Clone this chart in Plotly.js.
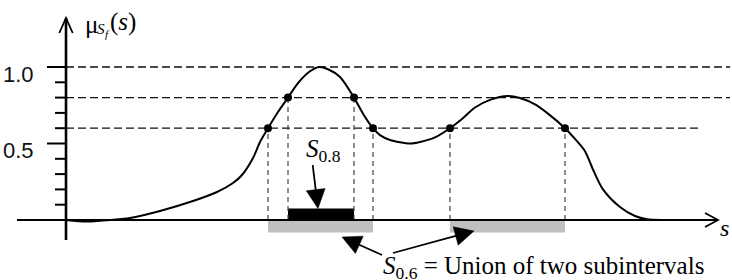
<!DOCTYPE html>
<html><head><meta charset="utf-8">
<script src="https://cdn.plot.ly/plotly-3.0.1.min.js"></script>
<style>html,body{margin:0;padding:0;background:#fff}#chart{width:732px;height:280px}</style>
</head><body><div id="chart"></div>
<script>
// membership function mu_Sf(s)
const sValues  = [0, 2.1, 4.4, 6.4, 9.4, 12.7, 15.1, 16.7, 17.6, 18.7, 19.4, 20.2, 21.2, 22.2, 23.2, 24.4, 25.3, 26.2, 27.4, 28.8, 29.7, 30.7, 31.4, 32.4, 33.4, 34.4, 35.4, 36.9, 38.4, 39.6, 40.9, 42.4, 44.2, 45.4, 46.9, 48.1, 49.9, 50.9, 51.9, 52.7, 53.7, 55.4, 56.9, 58.1, 59.9, 62.4];
const muValues = [0, -0.01, 0.0, 0.013, 0.059, 0.124, 0.183, 0.242, 0.294, 0.405, 0.51, 0.6, 0.706, 0.8, 0.895, 0.972, 1.0, 0.985, 0.935, 0.8, 0.695, 0.6, 0.555, 0.523, 0.508, 0.5, 0.51, 0.54, 0.6, 0.66, 0.735, 0.785, 0.81, 0.797, 0.755, 0.7, 0.6, 0.53, 0.45, 0.33, 0.2, 0.085, 0.026, 0.005, 0, 0];
const alphaLevels = [1.0, 0.8, 0.6];
const levelLineEnds = [66.4, 66.4, 63.2];
const cut08 = [22.2, 28.8];
const cut06 = [20.2, 30.7, 38.4, 49.9];
const yMajorTicks = [0.5, 1.0];
const yMajorLabels = ['0.5', '1.0'];
const yMinorTicks = [0.1, 0.2, 0.3, 0.4, 0.6, 0.7, 0.8, 0.9];

const W = 732, H = 280;
const xRange = [-6.6, 66.6], yRange = [-0.3922, 1.4379];
const dxp = (xRange[1] - xRange[0]) / W;
const dyp = (yRange[1] - yRange[0]) / H;
const px = p => xRange[0] + p * dxp;     // pixel -> data
const py = p => yRange[1] - p * dyp;
const X = s => (s - xRange[0]) / dxp;    // data -> pixel
const Y = m => (yRange[1] - m) / dyp;

const shapes = [];
// grey S0.6 bars
for (let i = 0; i < cut06.length; i += 2) {
  shapes.push({type:'rect', layer:'below', xref:'x', yref:'y', x0:cut06[i], x1:cut06[i+1], y0:-0.082, y1:0, fillcolor:'#c0c0c0', line:{width:0}});
}
// black S0.8 bar
const barTop = 0.075;
shapes.push({type:'rect', layer:'below', xref:'x', yref:'y', x0:cut08[0], x1:cut08[1], y0:0, y1:barTop, fillcolor:'#000', line:{width:0}});
// horizontal dashed alpha levels
alphaLevels.forEach((a, i) => {
  shapes.push({type:'line', layer:'below', xref:'x', yref:'y', x0:0, x1:levelLineEnds[i], y0:a, y1:a, line:{color:'#111', width:1.3, dash:'8px,4px'}});
});
// vertical dashed at crossings
cut08.forEach(c => shapes.push({type:'line', layer:'below', xref:'x', yref:'y', x0:c, x1:c, y0:0, y1:0.8, line:{color:'#444', width:1.2, dash:'5px,4px'}}));
cut06.forEach(c => shapes.push({type:'line', layer:'below', xref:'x', yref:'y', x0:c, x1:c, y0:0, y1:0.6, line:{color:'#444', width:1.2, dash:'5px,4px'}}));
// x axis with arrow
const xStart = px(17), xEnd = px(718);
shapes.push({type:'line', xref:'x', yref:'y', x0:xStart, x1:xEnd, y0:0, y1:0, line:{color:'#000', width:2}});
shapes.push({type:'path', xref:'x', yref:'y', path:`M${xEnd-13*dxp},${7*dyp} L${xEnd},0 L${xEnd-13*dxp},${-7*dyp}`, line:{color:'#000', width:1.8}});
// y axis with arrow
const yBot = py(240), yTop = py(18);
shapes.push({type:'line', xref:'x', yref:'y', x0:0, x1:0, y0:yBot, y1:yTop, line:{color:'#000', width:2.6}});
shapes.push({type:'path', xref:'x', yref:'y', path:`M${-6.7*dxp},${yTop-15*dyp} L0,${yTop} L${6.7*dxp},${yTop-15*dyp}`, line:{color:'#000', width:1.8}});
// ticks
yMajorTicks.forEach(t => shapes.push({type:'line', xref:'x', yref:'y', x0:-19*dxp, x1:0, y0:t, y1:t, line:{color:'#000', width:2}}));
yMinorTicks.forEach(t => shapes.push({type:'line', xref:'x', yref:'y', x0:-11*dxp, x1:0, y0:t, y1:t, line:{color:'#000', width:2}}));

// arrows with filled triangular heads (tail/tip in pixels)
function arrow(tx, ty, hx, hy, len, wid) {
  const dx = hx - tx, dy = hy - ty, L = Math.hypot(dx, dy);
  const ux = dx / L, uy = dy / L, nx = -uy, ny = ux;
  const bx = hx - ux * len, by = hy - uy * len;
  shapes.push({type:'line', xref:'x', yref:'y', x0:px(tx), y0:py(ty), x1:px(bx + ux*2), y1:py(by + uy*2), line:{color:'#000', width:1.8}});
  const p1 = [bx + nx*wid/2, by + ny*wid/2], p2 = [bx - nx*wid/2, by - ny*wid/2];
  shapes.push({type:'path', xref:'x', yref:'y', path:`M${px(hx)},${py(hy)} L${px(p1[0])},${py(p1[1])} L${px(p2[0])},${py(p2[1])} Z`, fillcolor:'#000', line:{color:'#000', width:0.5}});
}
arrow(312.7, 165, X((cut08[0] + cut08[1]) / 2) - 3, Y(barTop), 19, 19);
arrow(382, 255, 342, 237, 19, 19);
arrow(393, 253, 474, 231, 19, 19);

// crossing points
const dotX = [], dotY = [];
cut06.forEach(c => { dotX.push(c); dotY.push(0.6); });
cut08.forEach(c => { dotX.push(c); dotY.push(0.8); });

const serif = 'Liberation Serif, Times New Roman, serif';
const sans = 'Liberation Sans, Arial, sans-serif';
const annotations = [];
yMajorTicks.forEach((t, i) => annotations.push({xref:'x', yref:'y', x:px(36), y:t, xanchor:'right', yanchor:'middle', yshift:-7, text:yMajorLabels[i], showarrow:false, font:{family:sans, size:22, color:'#111'}}));
// y-axis title pieces
annotations.push({xref:'x', yref:'y', x:px(83), y:py(24), xanchor:'left', yanchor:'middle', text:'μ', showarrow:false, font:{family:serif, size:25, color:'#000'}});
annotations.push({xref:'x', yref:'y', x:px(95), y:py(29), xanchor:'left', yanchor:'middle', text:'<i>S</i>', showarrow:false, font:{family:serif, size:15, color:'#000'}});
annotations.push({xref:'x', yref:'y', x:px(103), y:py(34), xanchor:'left', yanchor:'middle', text:'<i>f</i>', showarrow:false, font:{family:serif, size:11, color:'#000'}});
annotations.push({xref:'x', yref:'y', x:px(108), y:py(22), xanchor:'left', yanchor:'middle', text:'(<i>s</i>)', showarrow:false, font:{family:serif, size:25, color:'#000'}});
// x-axis label
annotations.push({xref:'x', yref:'y', x:px(718), y:py(228), xanchor:'left', yanchor:'middle', text:'<i>s</i>', showarrow:false, font:{family:serif, size:24, color:'#000'}});
// S0.8 label
annotations.push({xref:'x', yref:'y', x:px(304), y:py(150), xanchor:'left', yanchor:'middle', text:'<i>S</i><sub>0.8</sub>', showarrow:false, font:{family:serif, size:25, color:'#000'}});
// S0.6 label
annotations.push({xref:'x', yref:'y', x:px(381), y:py(267), xanchor:'left', yanchor:'middle', text:'<i>S</i><sub>0.6</sub> = Union of two subintervals', showarrow:false, font:{family:serif, size:25, color:'#000'}});

const traces = [
  {type:'scatter', mode:'lines', x:sValues, y:muValues, line:{color:'#000', width:2, shape:'spline', smoothing:0.8}, hoverinfo:'skip'},
  {type:'scatter', mode:'markers', x:dotX, y:dotY, marker:{color:'#000', size:8}, hoverinfo:'skip'}
];
const layout = {
  width:W, height:H, margin:{l:0, r:0, t:0, b:0},
  paper_bgcolor:'#fff', plot_bgcolor:'#fff', showlegend:false,
  xaxis:{range:xRange, visible:false, fixedrange:true},
  yaxis:{range:yRange, visible:false, fixedrange:true},
  shapes, annotations
};
Plotly.newPlot('chart', traces, layout, {staticPlot:true, displayModeBar:false});
</script></body></html>
